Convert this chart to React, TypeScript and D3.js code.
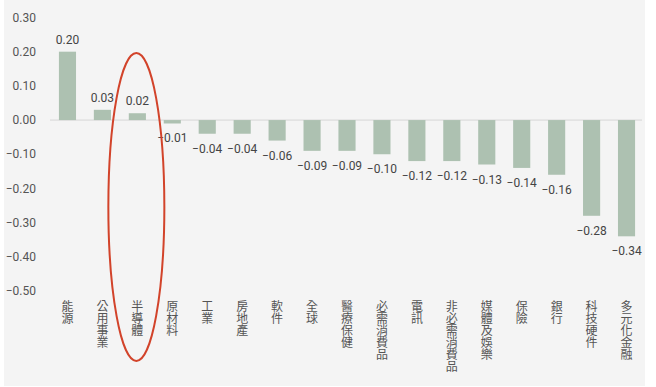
import React from "react";
import * as d3 from "d3";

const categories = ["能源","公用事業","半導體","原材料","工業","房地產","軟件","全球","醫療保健","必需消費品","電訊","非必需消費品","媒體及娛樂","保險","銀行","科技硬件","多元化金融"];
const values = [0.20,0.03,0.02,-0.01,-0.04,-0.04,-0.06,-0.09,-0.09,-0.10,-0.12,-0.12,-0.13,-0.14,-0.16,-0.28,-0.34];
const yTicks = [0.30,0.20,0.10,0.00,-0.10,-0.20,-0.30,-0.40,-0.50];
const highlighted = "半導體";

export default function App() {
  const W = 656, H = 387;
  const x = d3.scaleBand<string>().domain(categories).range([50, 644]).paddingInner(0.51).paddingOuter(0.255);
  const y = d3.scaleLinear().domain([-0.5, 0.3]).range([291, 17.5]);
  const fmt = d3.format(".2f");
  const hx = (x(highlighted) as number) + x.bandwidth() / 2;
  return (
    <div style={{ position: "absolute", left: 0, top: 0 }}>
      <svg width={W} height={H} style={{ display: "block" }}>
        <rect x={0} y={0} width={W} height={H} fill="#ffffff" />
        <rect x={4} y={0} width={641} height={386} fill="#f4f4f4" />
        {yTicks.map((t) => (
          <text key={t} x={36} y={y(t)} dy="0.35em" textAnchor="end" fontFamily="Roboto, 'Noto Sans', sans-serif" fontSize={12} fill="#555">
            {fmt(t)}
          </text>
        ))}
        <line x1={50} x2={642} y1={y(0)} y2={y(0)} stroke="#d6d6d6" strokeWidth={1} />
        {categories.map((c, i) => {
          const v = values[i];
          const bx = x(c) as number;
          const y0 = y(0), y1 = y(v);
          return (
            <g key={c}>
              <rect x={bx} y={Math.min(y0, y1)} width={x.bandwidth()} height={Math.abs(y1 - y0)} fill="#adc1b1" />
              <text x={bx + x.bandwidth() / 2} y={v >= 0 ? y1 - 8 : y1 + 19} textAnchor="middle" fontFamily="Roboto, 'Noto Sans', sans-serif" fontSize={12} fill="#444">
                {fmt(v)}
              </text>
              <text x={bx + x.bandwidth() / 2} y={300} textAnchor="start" fontFamily="'Noto Sans CJK TC', sans-serif" fontSize={12} fill="#555" style={{ writingMode: "vertical-rl" }}>
                {c}
              </text>
            </g>
          );
        })}
        <ellipse cx={hx - 1} cy={207} rx={28} ry={154} fill="none" stroke="#d2432a" strokeWidth={2} />
      </svg>
    </div>
  );
}
